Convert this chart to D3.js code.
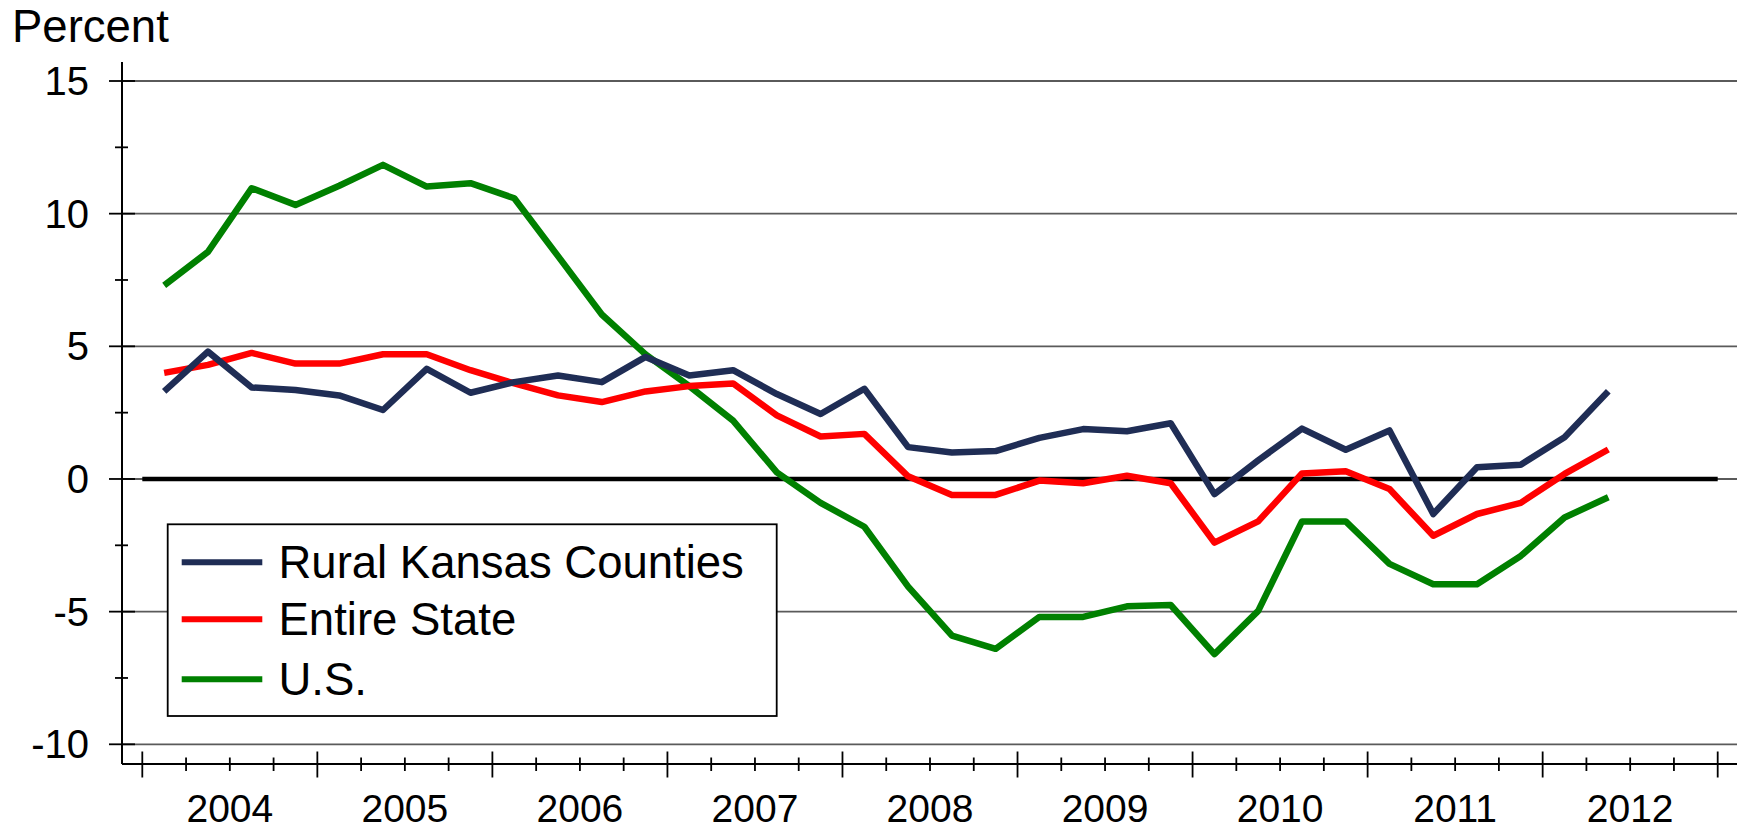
<!DOCTYPE html>
<html>
<head>
<meta charset="utf-8">
<script src="https://cdn.jsdelivr.net/npm/d3@7"></script>
<style>
  html, body { margin: 0; padding: 0; background: #fff; }
  svg { display: block; }
  text { font-family: "Liberation Sans", Arial, sans-serif; fill: #000; }
</style>
</head>
<body>
<svg id="chart" width="1745" height="828"></svg>
<script>
// ---- Data (quarterly, 2004Q1 .. 2012Q2) ----
const quarters = [
  "2004Q1","2004Q2","2004Q3","2004Q4","2005Q1","2005Q2","2005Q3","2005Q4",
  "2006Q1","2006Q2","2006Q3","2006Q4","2007Q1","2007Q2","2007Q3","2007Q4",
  "2008Q1","2008Q2","2008Q3","2008Q4","2009Q1","2009Q2","2009Q3","2009Q4",
  "2010Q1","2010Q2","2010Q3","2010Q4","2011Q1","2011Q2","2011Q3","2011Q4",
  "2012Q1","2012Q2"
];
const ruralKansas = [
  3.3, 4.8, 3.45, 3.35, 3.15, 2.6, 4.15, 3.25,
  3.65, 3.9, 3.65, 4.6, 3.9, 4.1, 3.2, 2.45,
  3.4, 1.2, 1.0, 1.05, 1.55, 1.88, 1.8, 2.1,
  -0.57, 0.7, 1.9, 1.1, 1.83, -1.32, 0.44, 0.54,
  1.57, 3.31
];
const entireState = [
  4.0, 4.3, 4.75, 4.35, 4.35, 4.7, 4.7, 4.1,
  3.6, 3.15, 2.9, 3.3, 3.5, 3.6, 2.4, 1.6,
  1.7, 0.1, -0.6, -0.6, -0.06, -0.16, 0.12, -0.16,
  -2.4, -1.6, 0.21, 0.29, -0.38, -2.14, -1.32, -0.9,
  0.19, 1.11
];
const us = [
  7.3, 8.56, 10.96, 10.33, 11.05, 11.84, 11.02, 11.15,
  10.58, 8.4, 6.2, 4.7, 3.5, 2.2, 0.25, -0.9,
  -1.8, -4.06, -5.9, -6.4, -5.2, -5.2, -4.8, -4.75,
  -6.6, -4.97, -1.6, -1.6, -3.2, -3.97, -3.97, -2.9,
  -1.45, -0.69
];
const yearLabels = ["2004","2005","2006","2007","2008","2009","2010","2011","2012"];
const yTicks = [15, 10, 5, 0, -5, -10];
const yMinorTicks = [12.5, 7.5, 2.5, -2.5, -7.5];
const seriesNames = ["Rural Kansas Counties", "Entire State", "U.S."];
const seriesColors = ["#1f2d55", "#ff0000", "#008000"];
const yTitle = "Percent";

// ---- Layout ----
const svg = d3.select("#chart");
const axisX = 122;          // y-axis line x
const axisBottom = 764;     // x-axis line y
const plotRight = 1737;     // gridline end
const xAxisEnd = 1737;

const x = d3.scaleLinear().domain([0, quarters.length + 2]).range([142.3, 1717.7]);
const y = d3.scaleLinear().domain([-10, 15]).range([744.3, 81]);

const qx = (i) => x(i + 0.5);

// gridlines
svg.append("g").selectAll("line")
  .data(yTicks)
  .join("line")
  .attr("x1", axisX).attr("x2", plotRight)
  .attr("y1", d => y(d)).attr("y2", d => y(d))
  .attr("stroke", "#5a5a5a").attr("stroke-width", 1.8);

// thick zero line
svg.append("line")
  .attr("x1", x(0)).attr("x2", x(quarters.length + 2))
  .attr("y1", y(0)).attr("y2", y(0))
  .attr("stroke", "#000").attr("stroke-width", 4.5);

// y axis line
svg.append("line")
  .attr("x1", axisX).attr("x2", axisX)
  .attr("y1", 62).attr("y2", axisBottom)
  .attr("stroke", "#000").attr("stroke-width", 2);

// y ticks
svg.append("g").selectAll("line")
  .data(yTicks).join("line")
  .attr("x1", 109).attr("x2", 135)
  .attr("y1", d => y(d)).attr("y2", d => y(d))
  .attr("stroke", "#000").attr("stroke-width", 1.8);
svg.append("g").selectAll("line")
  .data(yMinorTicks).join("line")
  .attr("x1", 115).attr("x2", 128)
  .attr("y1", d => y(d)).attr("y2", d => y(d))
  .attr("stroke", "#000").attr("stroke-width", 1.8);

// y labels
svg.append("g").selectAll("text")
  .data(yTicks).join("text")
  .attr("x", 89).attr("y", d => y(d) + 14)
  .attr("text-anchor", "end")
  .attr("font-size", 40)
  .text(d => d);

// y title
svg.append("text")
  .attr("x", 12).attr("y", 41.5)
  .attr("font-size", 45.5)
  .text(yTitle);

// x axis line
svg.append("line")
  .attr("x1", axisX).attr("x2", xAxisEnd)
  .attr("y1", axisBottom).attr("y2", axisBottom)
  .attr("stroke", "#000").attr("stroke-width", 2);

// x ticks: every quarter boundary, majors at year boundaries
const tickIdx = d3.range(0, quarters.length + 3);
svg.append("g").selectAll("line")
  .data(tickIdx).join("line")
  .attr("x1", d => x(d)).attr("x2", d => x(d))
  .attr("y1", d => d % 4 === 0 ? 751.5 : 757.5)
  .attr("y2", d => d % 4 === 0 ? 777.5 : 771)
  .attr("stroke", "#000").attr("stroke-width", 1.8);

// x labels
svg.append("g").selectAll("text")
  .data(yearLabels).join("text")
  .attr("x", (d, i) => x(i * 4 + 2))
  .attr("y", 821.5)
  .attr("text-anchor", "middle")
  .attr("font-size", 39)
  .text(d => d);

// series lines
const allSeries = [ruralKansas, entireState, us];
const line = d3.line().x((d, i) => qx(i)).y(d => y(d));
const drawOrder = [2, 1, 0];
drawOrder.forEach(k => {
  svg.append("path")
    .datum(allSeries[k])
    .attr("d", line)
    .attr("fill", "none")
    .attr("stroke", seriesColors[k])
    .attr("stroke-width", 6.5)
    .attr("stroke-linejoin", "round")
    .attr("stroke-linecap", "butt");
});

// legend
const lg = svg.append("g");
lg.append("rect")
  .attr("x", 167.7).attr("y", 524.3)
  .attr("width", 609).attr("height", 191.7)
  .attr("fill", "#fff").attr("stroke", "#000").attr("stroke-width", 1.8);
const rowY = [562.3, 619.3, 679.3];
seriesNames.forEach((name, k) => {
  lg.append("line")
    .attr("x1", 181.7).attr("x2", 262.3)
    .attr("y1", rowY[k]).attr("y2", rowY[k])
    .attr("stroke", seriesColors[k]).attr("stroke-width", 6);
  lg.append("text")
    .attr("x", 278.5).attr("y", rowY[k] + 16)
    .attr("font-size", 45.5)
    .text(name);
});
</script>
</body>
</html>
